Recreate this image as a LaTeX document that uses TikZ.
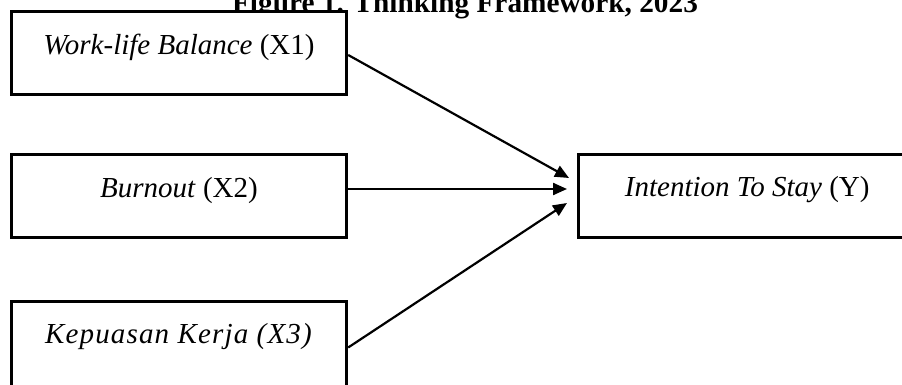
\documentclass[tikz,border=0pt]{standalone}
\usepackage{fontspec}
\setmainfont{Liberation Serif}
\usetikzlibrary{arrows.meta,shadows}

\begin{document}
\begin{tikzpicture}[x=1pt,y=-1pt,
  varbox/.style={draw=black, line width=3.4pt, fill=white, minimum width=335pt,
    minimum height=83pt, inner sep=0pt, rectangle,
    drop shadow={shadow xshift=1.4pt, shadow yshift=-1.4pt, fill=black!50, opacity=1}},
  boxtext/.style={font=\fontsize{29}{34}\selectfont, inner sep=0pt, anchor=center},
  titletext/.style={font=\fontsize{29.3}{35}\selectfont\bfseries, inner sep=0pt, anchor=base},
  arr/.style={draw=black, line width=2.2pt, -{Triangle[length=14pt,width=12pt]}}]
  \useasboundingbox (0,0) rectangle (902,385);
  \clip (0,0) rectangle (902,385);

  % caption, partly covered by the first box
  \node[titletext] (title) at (465,13) {Figure 1. Thinking Framework, 2023};

  % independent variables
  \node[varbox] (x1) at (179,53) {};
  \node[varbox] (x2) at (179,196) {};
  \node[varbox, minimum height=110pt] (x3) at (179,356.5) {};
  % dependent variable
  \node[varbox, minimum width=337.5pt] (y) at (747.25,196) {};

  \node[boxtext] (x1t) at ([yshift=-38pt]x1.north) {\textit{Work-life Balance} (X1)};
  \node[boxtext] (x2t) at ([yshift=-38pt]x2.north) {\textit{Burnout} (X2)};
  \node[boxtext] (x3t) at ([yshift=-37pt]x3.north) {\addfontfeatures{LetterSpace=4}\textit{Kepuasan Kerja (X3)}};
  \node[boxtext] (yt) at ([yshift=-37pt]y.north) {\textit{Intention To Stay} (Y)};

  % arrow tips stop just short of the dependent box
  \coordinate (t1) at (569,178);
  \coordinate (t2) at (567,189);
  \coordinate (t3) at (567,203);

  \draw[arr] ([yshift=-2pt]x1.east) -- (t1);
  \draw[arr] (x2.east |- t2) -- (t2);
  \draw[arr] ([yshift=9pt]x3.east) -- (t3);
\end{tikzpicture}
\end{document}
